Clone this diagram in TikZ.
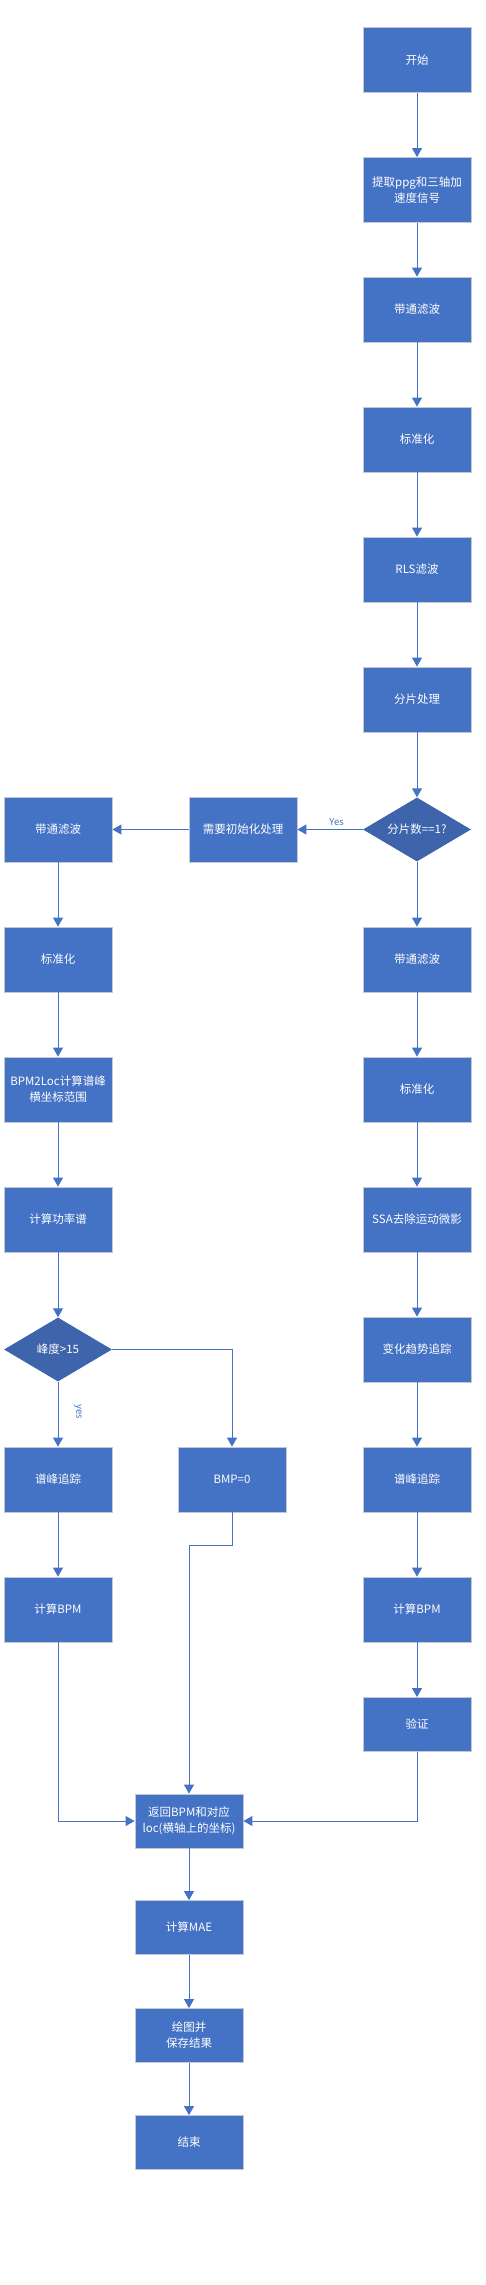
\documentclass[tikz,border=0pt]{standalone}
\usepackage{fontspec}
\setmainfont{Noto Sans CJK SC}
\usetikzlibrary{shapes.geometric, positioning, arrows.meta}
\definecolor{boxblue}{HTML}{4472C4}
\definecolor{decblue}{HTML}{3E64AC}
\definecolor{rimgray}{HTML}{C3C8D2}

\begin{document}
\begin{tikzpicture}[x=1pt,y=1pt,node distance=130pt,on grid,auto,
    >={Triangle[width=10pt,length=9pt]},
    flow/.style={draw=boxblue,line width=0.9pt},
    every edge/.style={flow},
    proc/.style={rectangle,fill=boxblue,draw=rimgray,line width=0.8pt,text=white,
      minimum width=108pt,minimum height=65pt,inner sep=1pt,align=center,
      font=\fontsize{11.5}{16}\selectfont},
    lowproc/.style={proc,minimum height=54pt},
    decide/.style={diamond,fill=decblue,text=white,minimum width=108pt,
      minimum height=64pt,inner sep=0pt,aspect=1.7,
      font=\fontsize{11.5}{16}\selectfont},
    tag/.style={text=boxblue,font=\fontsize{9.5}{11}\selectfont}]
  \useasboundingbox (0,0) rectangle (486,-2285);

  % main column
  \node[proc] (start) at (417,-60) {开始};
  \node[proc] (extract) [below=of start] {提取ppg和三轴加\\速度信号};
  \node[proc] (bp1) [below=119.5pt of extract] {带通滤波};
  \node[proc] (norm1) [below=of bp1] {标准化};
  \node[proc] (rls) [below=of norm1] {RLS滤波};
  \node[proc] (slice) [below=of rls] {分片处理};
  \node[decide] (dec1) [below=of slice] {分片数==1?};
  \node[proc] (bp2) [below=of dec1] {带通滤波};
  \node[proc] (norm2) [below=of bp2] {标准化};
  \node[proc] (ssa) [below=of norm2] {SSA去除运动微影};
  \node[proc] (trend) [below=of ssa] {变化趋势追踪};
  \node[proc] (peak2) [below=of trend] {谱峰追踪};
  \node[proc] (bpm2) [below=of peak2] {计算BPM};
  \node[lowproc] (verify) [below=115pt of bpm2] {验证};

  % init branch
  \node[proc] (init) [left=174pt of dec1] {需要初始化处理};
  \node[proc] (bp3) [left=185pt of init] {带通滤波};
  \node[proc] (norm3) [below=of bp3] {标准化};
  \node[proc] (loc) [below=of norm3] {BPM2Loc计算谱峰\\横坐标范围};
  \node[proc] (power) [below=of loc] {计算功率谱};
  \node[decide] (dec2) [below=of power] {峰度>15};
  \node[proc] (peak1) [below=of dec2] {谱峰追踪};
  \node[proc] (bpm1) [below=of peak1] {计算BPM};
  \node[proc] (bmp0) [right=174pt of peak1] {BMP=0};
  \node[tag,rotate=-90] (yes2) at (78,-1412) {yes};

  % tail
  \node[lowproc] (ret) at (189,-1821) {返回BPM和对应\\loc(横轴上的坐标)};
  \node[lowproc] (mae) [below=106.5pt of ret] {计算MAE};
  \node[lowproc] (plot) [below=108pt of mae] {绘图并\\保存结果};
  \node[lowproc] (end) [below=107pt of plot] {结束};

  \path[->]
    (start) edge (extract)
    (extract) edge (bp1)
    (bp1) edge (norm1)
    (norm1) edge (rls)
    (rls) edge (slice)
    (slice) edge (dec1)
    (dec1) edge node[tag,swap,pos=0.4] {Yes} (init)
           edge (bp2)
    (bp2) edge (norm2)
    (norm2) edge (ssa)
    (ssa) edge (trend)
    (trend) edge (peak2)
    (peak2) edge (bpm2)
    (bpm2) edge (verify)
    (init) edge (bp3)
    (bp3) edge (norm3)
    (norm3) edge (loc)
    (loc) edge (power)
    (power) edge (dec2)
    (dec2) edge (peak1)
    (peak1) edge (bpm1)
    (ret) edge (mae)
    (mae) edge (plot)
    (plot) edge (end);

  \draw[flow,->] (dec2) -| (bmp0);
  \draw[flow,->] (bmp0.south) -- ++(0,-33) -| (ret);
  \draw[flow,->] (bpm1) |- (ret);
  \draw[flow,->] (verify) |- (ret);
\end{tikzpicture}
\end{document}
